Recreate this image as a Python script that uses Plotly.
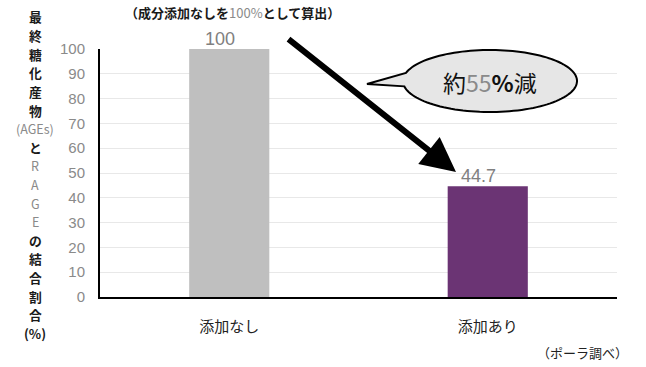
import numpy as np
import plotly.graph_objects as go

categories = ["添加なし", "添加あり"]
values = [100, 44.7]
value_labels = ["100", "44.7"]
bar_colors = ["#bfbfbf", "#6b3474"]
y_ticks = list(range(0, 101, 10))

W, H = 646, 367
L, R, T, B = 100, 29, 49, 70
pw, ph = W - L - R, H - T - B

def px(xp):
    return (xp - L) / pw

def py(yp):
    return (H - B - yp) / ph

fig = go.Figure()
fig.add_trace(go.Bar(
    x=categories, y=values, marker=dict(color=bar_colors, line=dict(width=0)),
    width=0.31, hoverinfo="skip",
))

GRAY = "#8a8a8a"
ann = []
# value labels
for c, v, t in zip(categories, values, value_labels):
    ann.append(dict(x=c, y=v, text=t, showarrow=False, yanchor="bottom", xshift=-9, yshift=-2,
                    font=dict(family="Liberation Sans", size=18, color="#808080", weight=300)))

# vertical title, one annotation per character line
title_lines = [("最", True), ("終", True), ("糖", True), ("化", True), ("産", True), ("物", True),
               ("(AGEs)", False), ("と", True), ("R", False), ("A", False), ("G", False), ("E", False),
               ("の", True), ("結", True), ("合", True), ("割", True), ("合", True), ("(%)", True)]
y0, step = 17, 18.6
for i, (s, dark) in enumerate(title_lines):
    ann.append(dict(xref="paper", yref="paper", x=px(35), y=py(y0 + i * step),
                    text=f"<b>{s}</b>" if dark else s, showarrow=False, borderpad=0,
                    xanchor="center", yanchor="middle",
                    font=dict(family="Noto Sans CJK JP", size=12.8 if dark else 12.5,
                              color="#1a1a1a" if dark else GRAY)))

# top note
ann.append(dict(xref="paper", yref="paper", x=px(232), y=py(13),
                text="<b>（成分添加なしを</b><span style='color:#8a8a8a'>100%</span><b>として算出）</b>",
                showarrow=False, xanchor="center", yanchor="middle",
                font=dict(family="Noto Sans CJK JP", size=13, color="#1a1a1a")))

# source
ann.append(dict(xref="paper", yref="paper", x=px(582), y=py(352), text="（ポーラ調べ）",
                showarrow=False, xanchor="center", yanchor="middle",
                font=dict(family="Noto Sans CJK JP", size=13, color="#222222")))

# arrow
tip_x, tip_y = 456, 172
ann.append(dict(xref="paper", yref="paper", x=px(tip_x), y=py(tip_y), ax=287 - tip_x, ay=38 - tip_y,
                text="", showarrow=True, arrowhead=2, arrowsize=1.15, arrowwidth=6, arrowcolor="#000000"))

# bubble text
ann.append(dict(xref="paper", yref="paper", x=px(490), y=py(82),
                text="約<span style='color:#8a8a8a'>55</span><b>%</b>減",
                showarrow=False, xanchor="center", yanchor="middle",
                font=dict(family="Noto Sans CJK JP", size=23, color="#111111")))

# bubble shape (ellipse with tail), in pixel space converted to paper coords
cx, cy, rx, ry = 490, 81, 87, 31
a0, a1 = np.deg2rad(190), np.deg2rad(165)
th = np.linspace(a0, a1 + 2 * np.pi, 120)
pts = [(cx + rx * np.cos(t), cy - ry * np.sin(t)) for t in th]
pts = pts + [(367, 84)]
path = "M " + " L ".join(f"{px(x):.4f},{py(y):.4f}" for x, y in pts) + " Z"
shapes = [dict(type="path", xref="paper", yref="paper", path=path,
               fillcolor="#e6e6e6", line=dict(color="#000000", width=2), layer="above")]

fig.update_layout(
    width=W, height=H, margin=dict(l=L, r=R, t=T, b=B),
    paper_bgcolor="white", plot_bgcolor="white", showlegend=False,
    bargap=0.69, annotations=ann, shapes=shapes,
    xaxis=dict(showline=True, linecolor="#000000", linewidth=2, ticks="", showgrid=False,
               tickfont=dict(family="Noto Sans CJK JP", size=15, color="#222222"),
               ticklabelstandoff=15, range=[-0.5, 1.5], fixedrange=True),
    yaxis=dict(range=[0, 100], tickvals=y_ticks, showline=True, linecolor="#000000", linewidth=2,
               showgrid=True, gridcolor="#e8e8e8", gridwidth=1, zeroline=False, ticks="",
               tickfont=dict(family="Liberation Sans", size=15, color="#8a8a8a"),
               ticklabelstandoff=10, fixedrange=True),
)
fig.write_html("out.html")
